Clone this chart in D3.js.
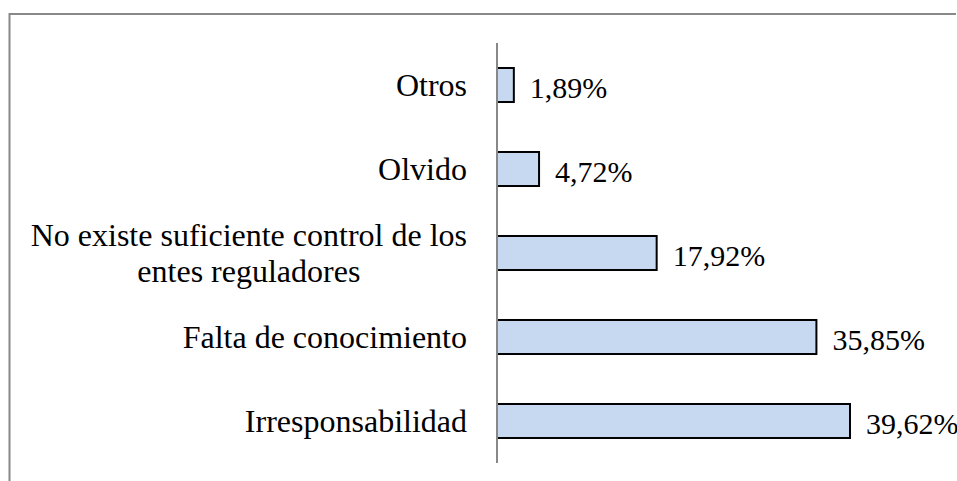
<!DOCTYPE html>
<html>
<head>
<meta charset="utf-8">
<script src="https://cdn.jsdelivr.net/npm/d3@7"></script>
<style>
  body { margin: 0; background: #fff; }
</style>
</head>
<body>
<div id="chart"></div>
<script>
const width = 957,
      height = 481,
      serif = '"Liberation Serif"';

// data, top to bottom
const categories = [
    ["Otros"],
    ["Olvido"],
    ["No existe suficiente control de los", "entes reguladores"],
    ["Falta de conocimiento"],
    ["Irresponsabilidad"]
];
const values = [1.89, 4.72, 17.92, 35.85, 39.62];
const valueLabels = ["1,89%", "4,72%", "17,92%", "35,85%", "39,62%"];

const margin = { top: 43, right: 107, bottom: 18, left: 497 };

const svg = d3.select("#chart").append("svg")
    .attr("width", width)
    .attr("height", height);

// outer frame (right and bottom fall outside the crop)
svg.append("path")
    .attr("d", `M9.5,${height + 2}V14H${width - 1}`)
    .attr("fill", "none")
    .attr("stroke", "#888")
    .attr("stroke-width", 2);

const x = d3.scaleLinear()
    .domain([0, 39.62])
    .range([margin.left, width - margin.right]);

const y = d3.scaleBand()
    .domain(d3.range(values.length))
    .range([margin.top, height - margin.bottom])
    .paddingInner(0.595)
    .paddingOuter(0.2975);

const g = svg.append("g");

g.selectAll("rect")
    .data(values)
    .enter()
    .append("rect")
    .attr("x", x(0))
    .attr("y", (d, i) => y(i))
    .attr("width", d => x(d) - x(0))
    .attr("height", y.bandwidth())
    .attr("fill", "#c6d9f1")
    .attr("stroke", "#000")
    .attr("stroke-width", 2);

// vertical category axis line
svg.append("line")
    .attr("x1", x(0))
    .attr("x2", x(0))
    .attr("y1", margin.top)
    .attr("y2", height - margin.bottom)
    .attr("stroke", "#888")
    .attr("stroke-width", 2);

const catSize = 32,
    valSize = 30,
    lineH = 36;

// category labels, multi-line ones centred on their widest line
const labels = svg.append("g")
    .selectAll("text")
    .data(categories)
    .enter()
    .append("text")
    .style("font-family", serif)
    .attr("font-size", catSize)
    .attr("fill", "#000")
    .attr("text-anchor", "middle");

labels.each(function(lines, i) {
    const t = d3.select(this);
    const cy = y(i) + y.bandwidth() / 2;
    lines.forEach((ln, k) => {
        t.append("tspan")
            .attr("x", 0)
            .attr("y", cy + (k - (lines.length - 1) / 2) * lineH)
            .attr("dy", "0.35em")
            .text(ln);
    });
    const w = this.getBBox().width;
    t.selectAll("tspan").attr("x", 467 - w / 2);
});

svg.append("g")
    .selectAll("text")
    .data(values)
    .enter()
    .append("text")
    .style("font-family", serif)
    .attr("font-size", valSize)
    .attr("fill", "#000")
    .attr("x", d => x(d) + 16)
    .attr("y", (d, i) => y(i) + y.bandwidth() / 2 + 2)
    .attr("dy", "0.35em")
    .text((d, i) => valueLabels[i]);
</script>
</body>
</html>
